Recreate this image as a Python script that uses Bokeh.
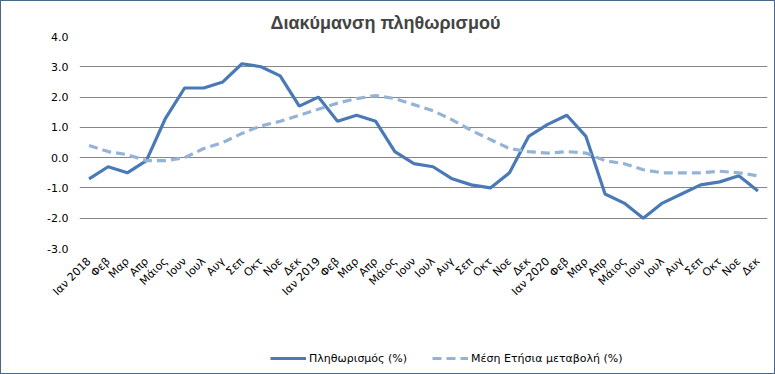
from math import pi
from bokeh.plotting import figure
from bokeh.layouts import column
from bokeh.models import Range1d, FixedTicker, NumeralTickFormatter, Legend, LegendItem
from bokeh.embed import file_html
from bokeh.resources import INLINE

months = ["Ιαν 2018", "Φεβ", "Μαρ", "Απρ", "Μάιος", "Ιουν", "Ιουλ", "Αυγ", "Σεπ", "Οκτ", "Νοε", "Δεκ",
          "Ιαν 2019", "Φεβ", "Μαρ", "Απρ", "Μάιος", "Ιουν", "Ιουλ", "Αυγ", "Σεπ", "Οκτ", "Νοε", "Δεκ",
          "Ιαν 2020", "Φεβ", "Μαρ", "Απρ", "Μάιος", "Ιουν", "Ιουλ", "Αυγ", "Σεπ", "Οκτ", "Νοε", "Δεκ"]

inflation = [-0.7, -0.3, -0.5, -0.1, 1.3, 2.3, 2.3, 2.5, 3.1, 3.0, 2.7, 1.7,
             2.0, 1.2, 1.4, 1.2, 0.2, -0.2, -0.3, -0.7, -0.9, -1.0, -0.5, 0.7,
             1.1, 1.4, 0.7, -1.2, -1.5, -2.0, -1.5, -1.2, -0.9, -0.8, -0.6, -1.1]

avg_annual = [0.4, 0.2, 0.1, -0.1, -0.1, 0.0, 0.3, 0.5, 0.8, 1.05, 1.2, 1.4,
              1.6, 1.8, 1.95, 2.05, 1.95, 1.75, 1.55, 1.25, 0.9, 0.6, 0.3, 0.2,
              0.15, 0.2, 0.15, -0.1, -0.2, -0.4, -0.5, -0.5, -0.5, -0.45, -0.5, -0.6]

series_names = ["Πληθωρισμός (%)", "Μέση Ετήσια μεταβολή (%)"]

y_ticks = [-3, -2, -1, 0, 1, 2, 3, 4]

x = list(range(len(months)))

SOLID = "#4A7AB6"
DASHED = "#95B3D7"

p = figure(width=773, height=342, output_backend="svg", toolbar_location=None,
           x_range=Range1d(-0.5, len(months) - 0.5), y_range=Range1d(-3, 4),
           min_border_left=78, min_border_right=7, min_border_top=35, min_border_bottom=95)
p.outline_line_color = None
p.background_fill_color = "white"
p.border_fill_color = "white"

p.title.text = "Διακύμανση  πληθωρισμού"
p.title.text_font = "Liberation Sans"
p.title.text_font_style = "bold"
p.title.text_font_size = "18px"
p.title.align = "left"
p.title.offset = 191
p.title.standoff = 7

p.line(x, inflation, line_color=SOLID, line_width=3.2)
p.line(x, avg_annual, line_color=DASHED, line_width=3.2, line_dash="9 5")

p.xgrid.grid_line_color = None
p.ygrid.grid_line_color = "#868686"
p.ygrid.grid_line_width = 1
p.ygrid.ticker = FixedTicker(ticks=y_ticks)

p.yaxis.ticker = FixedTicker(ticks=y_ticks)
p.yaxis.formatter = NumeralTickFormatter(format="0.0")
p.yaxis.axis_line_color = None
p.yaxis.major_tick_line_color = None
p.yaxis.major_tick_out = 0
p.yaxis.minor_tick_line_color = None
p.yaxis.major_label_text_font = "DejaVu Sans"
p.yaxis.major_label_text_font_size = "11px"
p.yaxis.major_label_text_color = "black"
p.yaxis.major_label_standoff = 11

p.xaxis.ticker = FixedTicker(ticks=x)
p.xaxis.major_label_overrides = {i: m for i, m in enumerate(months)}
p.xaxis.major_label_orientation = pi / 4
p.xaxis.axis_line_color = None
p.xaxis.major_tick_line_color = None
p.xaxis.major_tick_out = 0
p.xaxis.minor_tick_line_color = None
p.xaxis.major_label_text_font = "DejaVu Sans"
p.xaxis.major_label_text_font_size = "11px"
p.xaxis.major_label_text_color = "black"
p.xaxis.major_label_standoff = 11

# legend strip below the chart (series drawn out of its view, only legend shows)
q = figure(width=773, height=30, output_backend="svg", toolbar_location=None,
           x_axis_type=None, y_axis_type=None,
           x_range=Range1d(-0.5, len(months) - 0.5), y_range=Range1d(100, 101),
           min_border=0, min_border_left=0, min_border_right=0, min_border_top=0, min_border_bottom=0)
q.outline_line_color = None
q.grid.grid_line_color = None
q.background_fill_color = "white"
q.border_fill_color = "white"
l1 = q.line(x, inflation, line_color=SOLID, line_width=3.2)
l2 = q.line(x, avg_annual, line_color=DASHED, line_width=3.2, line_dash="9 5")

legend = Legend(items=[LegendItem(label=series_names[0], renderers=[l1]),
                       LegendItem(label=series_names[1], renderers=[l2])],
                orientation="horizontal", location=(191, 7),
                padding=0, margin=0, spacing=25, label_standoff=3,
                glyph_width=36, glyph_height=16,
                label_text_font="DejaVu Sans", label_text_font_size="11px",
                label_text_color="black", border_line_color=None,
                background_fill_alpha=0)
q.add_layout(legend)

layout = column(p, q, spacing=0)
layout.styles = {"border": "1px solid #4A6788"}

open("out.html", "w").write(file_html(layout, INLINE))
